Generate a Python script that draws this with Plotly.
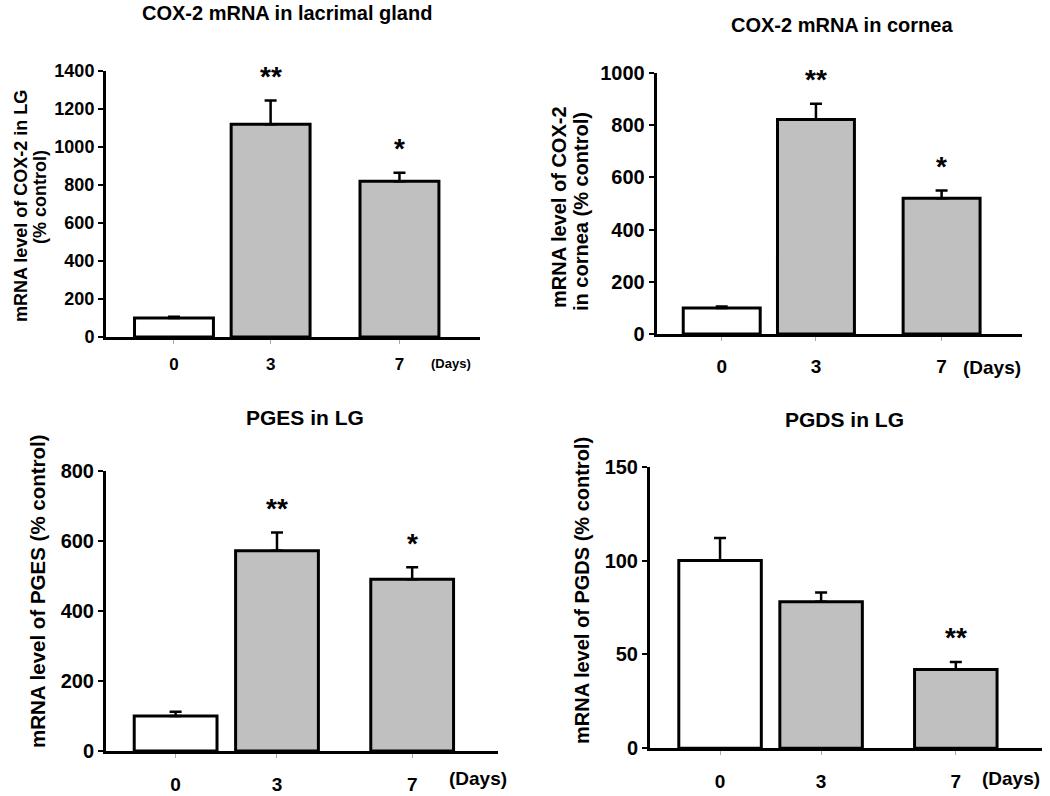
import plotly.graph_objects as go

# ---------------- data ----------------
days = [0, 3, 7]
day_labels = ["0", "3", "7"]

cox2_lg = [100, 1120, 820]
cox2_lg_err = [6, 125, 45]
cox2_cornea = [100, 822, 520]
cox2_cornea_err = [5, 60, 30]
pges_lg = [100, 572, 491]
pges_lg_err = [12, 52, 34]
pgds_lg = [100, 78, 42]
pgds_lg_err = [12, 5, 4]

titles = ["COX-2 mRNA in lacrimal gland", "COX-2 mRNA in cornea", "PGES in LG", "PGDS in LG"]
stars = [["", "**", "*"], ["", "**", "*"], ["", "**", "*"], ["", "", "**"]]
y_titles = [
    ["mRNA level of COX-2 in LG", "(% control)"],
    ["mRNA level of COX-2", "in cornea (% control)"],
    ["mRNA level of PGES (% control)"],
    ["mRNA level of PGDS (% control)"],
]
unit_label = "(Days)"

# ---------------- layout helpers ----------------
W, H = 1050, 796
FONT = "Liberation Sans, Arial, Helvetica, sans-serif"
GRAY = "#c0c0c0"


def px(x):
    return x / W


def py(y):
    return 1 - y / H


panels = [
    dict(values=cox2_lg, err=cox2_lg_err, xdom=(106, 480), ydom=(337, 71), yrange=(0, 1400), dtick=200,
         xrange=(-2.11, 9.5), tfs=18, xfs=17, ytitle_x=[21, 40], ytitle_y=[206, 197], ytfs=18,
         title_xy=(287, 13), title_fs=20, days_xy=(451, 363), days_fs=13, standoff=6),
    dict(values=cox2_cornea, err=cox2_cornea_err, xdom=(656.7, 1021.7), ydom=(334, 73), yrange=(0, 1000), dtick=200,
         xrange=(-2.07, 9.55), tfs=20, xfs=19, ytitle_x=[559, 581], ytitle_y=[207, 212], ytfs=20,
         title_xy=(841.5, 25), title_fs=20, days_xy=(992, 367), days_fs=19, standoff=9),
    dict(values=pges_lg, err=pges_lg_err, xdom=(106, 498), ydom=(751, 471), yrange=(0, 800), dtick=200,
         xrange=(-2.06, 9.54), tfs=20, xfs=19, ytitle_x=[37], ytitle_y=[591], ytfs=20.5,
         title_xy=(305, 417), title_fs=21, days_xy=(478, 778), days_fs=19, standoff=10),
    dict(values=pgds_lg, err=pgds_lg_err, xdom=(650, 1041.7), ydom=(748.3, 466.7), yrange=(0, 150), dtick=50,
         xrange=(-2.08, 9.55), tfs=20, xfs=19, ytitle_x=[582], ytitle_y=[591], ytfs=20,
         title_xy=(844, 420), title_fs=21, days_xy=(1011, 778), days_fs=19, standoff=10),
]

fig = go.Figure()
annotations = []
layout_axes = {}

for i, p in enumerate(panels):
    n = i + 1
    xa = "x" if n == 1 else f"x{n}"
    ya = "y" if n == 1 else f"y{n}"
    fig.add_trace(go.Bar(
        x=days, y=p["values"], width=2.45,
        xaxis=xa, yaxis=ya,
        marker=dict(color=["white", GRAY, GRAY], line=dict(color="black", width=3)),
        error_y=dict(type="data", array=p["err"], arrayminus=[0, 0, 0], symmetric=False,
                     color="black", thickness=2.5, width=6),
        showlegend=False, hoverinfo="skip",
    ))
    layout_axes[f"xaxis{n if n > 1 else ''}"] = dict(
        domain=[px(p["xdom"][0]), px(p["xdom"][1])], range=list(p["xrange"]),
        anchor=ya, tickvals=days, ticktext=day_labels, showgrid=False, zeroline=False,
        showline=True, linewidth=3, linecolor="black", automargin=False,
        ticks="outside", ticklen=4, tickwidth=1, tickcolor="#aaaaaa",
        ticklabelstandoff=p["standoff"],
        tickfont=dict(family=FONT, size=p["xfs"], color="black", weight="bold"),
        fixedrange=True,
    )
    layout_axes[f"yaxis{n if n > 1 else ''}"] = dict(
        domain=[py(p["ydom"][0]), py(p["ydom"][1])], range=list(p["yrange"]),
        anchor=xa, dtick=p["dtick"], tick0=0, showgrid=False, zeroline=False,
        showline=True, linewidth=3, linecolor="black", automargin=False,
        ticks="outside", ticklen=5, tickwidth=2, tickcolor="black",
        tickfont=dict(family=FONT, size=p["tfs"], color="black", weight="bold"),
        fixedrange=True,
    )
    # significance stars
    for d, v, e, s in zip(days, p["values"], p["err"], stars[i]):
        if s:
            annotations.append(dict(
                x=d, y=v + e, xref=xa, yref=ya, text=s, showarrow=False,
                yanchor="middle", yshift=24,
                font=dict(family=FONT, size=28, color="black", weight="bold"),
            ))
    # panel title
    annotations.append(dict(
        x=px(p["title_xy"][0]), y=py(p["title_xy"][1]), xref="paper", yref="paper",
        text=titles[i], showarrow=False, xanchor="center", yanchor="middle",
        font=dict(family=FONT, size=p["title_fs"], color="black", weight="bold"),
    ))
    # y-axis title lines
    for line, lx, ly in zip(y_titles[i], p["ytitle_x"], p["ytitle_y"]):
        annotations.append(dict(
            x=px(lx), y=py(ly), xref="paper", yref="paper", text=line, showarrow=False,
            textangle=-90, xanchor="center", yanchor="middle",
            font=dict(family=FONT, size=p["ytfs"], color="black", weight="bold"),
        ))
    # (Days) unit label
    annotations.append(dict(
        x=px(p["days_xy"][0]), y=py(p["days_xy"][1]), xref="paper", yref="paper",
        text=unit_label, showarrow=False, xanchor="center", yanchor="middle",
        font=dict(family=FONT, size=p["days_fs"], color="black", weight="bold"),
    ))

fig.update_layout(
    template="none",
    width=W, height=H, margin=dict(l=0, r=0, t=0, b=0, pad=0, autoexpand=False),
    paper_bgcolor="white", plot_bgcolor="white",
    showlegend=False, annotations=annotations, bargap=0,
    **layout_axes,
)

fig.write_html(
    "out.html",
    config={"displayModeBar": False, "staticPlot": True},
    post_script="document.body.style.margin='0';document.body.style.overflow='hidden';",
)
